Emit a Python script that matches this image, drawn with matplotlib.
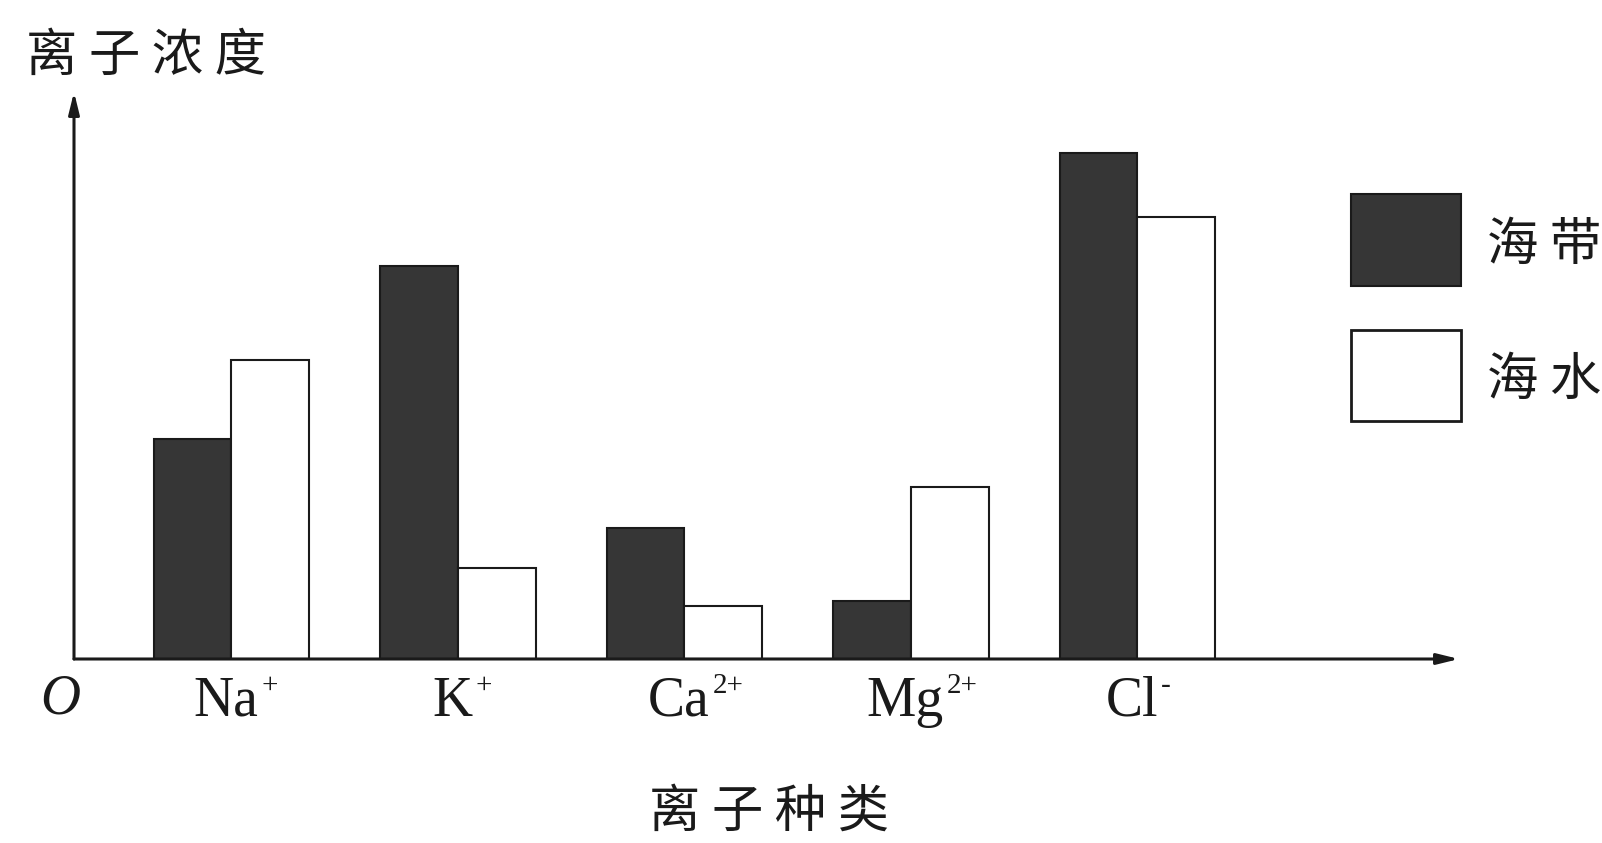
import matplotlib.pyplot as plt
from matplotlib.patches import Rectangle

plt.rcParams['font.family'] = ['Noto Sans CJK SC', 'DejaVu Sans']

ions = ['Na', 'K', 'Ca', 'Mg', 'Cl']
charges = ['+', '+', '2+', '2+', '-']
kelp = [22.0, 39.3, 13.1, 5.8, 50.6]       # 海带
seawater = [29.9, 9.1, 5.3, 17.2, 44.2]    # 海水

W, H = 1602, 843
fig = plt.figure(figsize=(W / 100, H / 100), dpi=100)

# axes box: from the y axis (x=74) to the x arrow tip, baseline to y arrow tip
left, right, bottom, top = 74, 1459, 659, 92
ax = fig.add_axes([left / W, (H - bottom) / H, (right - left) / W, (bottom - top) / H])

bw = 0.343
x = list(range(len(ions)))
ax.bar([i - bw / 2 for i in x], kelp, width=bw, color='#363636',
       edgecolor='#1a1a1a', linewidth=1.5)
ax.bar([i + bw / 2 for i in x], seawater, width=bw, color='white',
       edgecolor='#1a1a1a', linewidth=1.5)

ax.set_xlim(-0.695, 5.42)
ax.set_ylim(0, 56.7)
for s in ax.spines.values():
    s.set_visible(False)
ax.set_xticks([])
ax.set_yticks([])

# ion labels with small superscript charges
for i, (n, c) in enumerate(zip(ions, charges)):
    base = ax.annotate(n, xy=(i, 0), xycoords=('data', 'axes fraction'),
                       xytext=(-4, -41), textcoords='offset points',
                       ha='center', va='baseline', family='Liberation Serif',
                       fontsize=40, color='#1a1a1a')
    ax.annotate(c, xy=(1, 1), xycoords=base, xytext=(2, -7),
                textcoords='offset points', ha='left', va='center',
                family='Liberation Serif', fontsize=21, color='#1a1a1a')

# axes drawn as arrows
arrow = dict(arrowstyle='-|>,head_length=1.3,head_width=0.32', color='#1a1a1a',
             lw=2.2, shrinkA=0, shrinkB=0)
ax.annotate('', xy=(1, 0), xytext=(0, 0), xycoords='axes fraction', arrowprops=arrow)
ax.annotate('', xy=(0, 1), xytext=(0, 0), xycoords='axes fraction', arrowprops=arrow)

fig.text(60 / W, 1 - 700 / H, 'O', family='Liberation Serif', style='italic',
         fontsize=40, ha='center', va='center', color='#1a1a1a')
fig.text(26 / W, 1 - 56 / H, '离 子 浓 度', fontsize=37, ha='left', va='center',
         color='#1a1a1a')
fig.text(769 / W, 1 - 812 / H, '离 子 种 类', fontsize=37, ha='center', va='center',
         color='#1a1a1a')

# legend
fig.patches.append(Rectangle((1351 / W, 1 - 286 / H), 110 / W, 92 / H,
                             transform=fig.transFigure, facecolor='#363636',
                             edgecolor='#1a1a1a', lw=1.5))
fig.patches.append(Rectangle((1351 / W, 1 - 421 / H), 110 / W, 91 / H,
                             transform=fig.transFigure, facecolor='white',
                             edgecolor='#1a1a1a', lw=2))
fig.text(1487 / W, 1 - 245 / H, '海 带', fontsize=37, ha='left', va='center',
         color='#1a1a1a')
fig.text(1487 / W, 1 - 380 / H, '海 水', fontsize=37, ha='left', va='center',
         color='#1a1a1a')

fig.savefig('out.png', dpi=100)
